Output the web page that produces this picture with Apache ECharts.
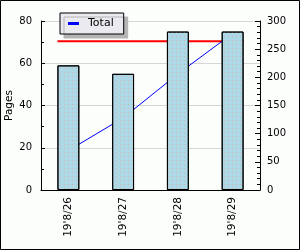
<!DOCTYPE html>
<html>
<head>
<meta charset="utf-8">
<script src="https://cdn.jsdelivr.net/npm/echarts@6/dist/echarts.min.js"></script>
<style>
html,body{margin:0;padding:0;background:#fcfefc;}
#c{width:300px;height:250px;}
</style>
</head>
<body>
<div id="c"></div>
<script>
var categories = ["19'8/26", "19'8/27", "19'8/28", "19'8/29"];
var pages = [59, 55, 75, 75];
var total = [70, 128, 206, 278];
var targetValue = [264];
var leftTicks = [0, 20, 40, 60, 80];
var rightTicks = [0, 50, 100, 150, 200, 250, 300];

var BAR_FRAC = 0.4;
var font = 'DejaVu Sans';
var chart = echarts.init(document.getElementById('c'), null, {renderer: 'canvas'});
chart.setOption({
  backgroundColor: '#fcfefc',
  animation: false,
  graphic: [{
    type: 'rect', silent: true, z: 100,
    shape: {x: 0.5, y: 0.5, width: 299, height: 249},
    style: {fill: null, stroke: '#000', lineWidth: 1}
  }],
  legend: {
    data: ['Total'],
    left: 60, top: 13,
    padding: [5, 10, 5, 8],
    backgroundColor: '#ebeaf0',
    borderColor: '#000', borderWidth: 1,
    shadowColor: '#b4b4b4', shadowBlur: 0, shadowOffsetX: 4, shadowOffsetY: 4,
    itemWidth: 11, itemHeight: 3,
    icon: 'rect',
    textStyle: {fontFamily: font, fontSize: 11, color: '#000', padding: [0, 0, 0, 4]}
  },
  grid: {left: 41, right: 40, top: 21, bottom: 60, containLabel: false, outerBoundsMode: 'none'},
  xAxis: {
    type: 'category', data: categories,
    axisLine: {lineStyle: {color: '#000'}},
    axisTick: {inside: true, length: 5, lineStyle: {color: '#000'}},
    axisLabel: {rotate: 90, margin: 7, fontFamily: font, fontSize: 10.5, color: '#000'}
  },
  yAxis: [{
    type: 'value', min: leftTicks[0], max: leftTicks[leftTicks.length - 1], interval: leftTicks[1] - leftTicks[0],
    name: 'Pages', nameLocation: 'middle', nameGap: 26, nameRotate: 90, nameMoveOverlap: false,
    nameTextStyle: {fontFamily: font, fontSize: 10.5, color: '#000'},
    axisLine: {show: true, lineStyle: {color: '#000'}},
    axisTick: {show: true, inside: true, length: 4, lineStyle: {color: '#000'}},
    minorTick: {show: true, splitNumber: 2, length: 3, lineStyle: {color: '#000'}},
    splitLine: {show: true, lineStyle: {color: '#d6d6d6'}},
    axisLabel: {margin: 9, fontFamily: font, fontSize: 10, color: '#000'}
  }, {
    type: 'value', min: rightTicks[0], max: rightTicks[rightTicks.length - 1], interval: rightTicks[1] - rightTicks[0],
    position: 'right',
    axisLine: {show: true, lineStyle: {color: '#000'}},
    axisTick: {show: true, inside: true, length: 5, lineStyle: {color: '#000'}},
    minorTick: {show: true, splitNumber: 5, length: 3, lineStyle: {color: '#000'}},
    splitLine: {show: false},
    axisLabel: {margin: 7, fontFamily: font, fontSize: 10, color: '#000'}
  }],
  series: [{
    type: 'custom', name: 'Target', yAxisIndex: 1, z: 2,
    data: targetValue.map(function (v) { return [0, v]; }),
    renderItem: function (params, api) {
      var v = api.value(1);
      var a = api.coord([0, v]);
      var b = api.coord([categories.length - 1, v]);
      var w = api.size([1, 0])[0] * BAR_FRAC / 2;
      return {type: 'line', shape: {x1: a[0] - w, y1: a[1], x2: b[0] + w, y2: b[1]},
        style: {stroke: '#ff0000', lineWidth: 2}};
    }
  }, {
    type: 'line', name: 'Total', yAxisIndex: 1, z: 2,
    data: total, symbol: 'none',
    lineStyle: {color: '#0000ff', width: 1},
    itemStyle: {color: '#0000ff'}
  }, {
    type: 'bar', name: 'Pages', yAxisIndex: 0, z: 5,
    data: pages, barWidth: (BAR_FRAC * 100) + '%',
    itemStyle: {
      color: '#add8e6', borderColor: '#000', borderWidth: 1,
      decal: {symbol: 'rect', symbolSize: 1, color: 'rgba(235,160,160,0.7)', dashArrayX: [1, 3], dashArrayY: [1, 3], rotation: 0}
    }
  }]
});
</script>
</body>
</html>
